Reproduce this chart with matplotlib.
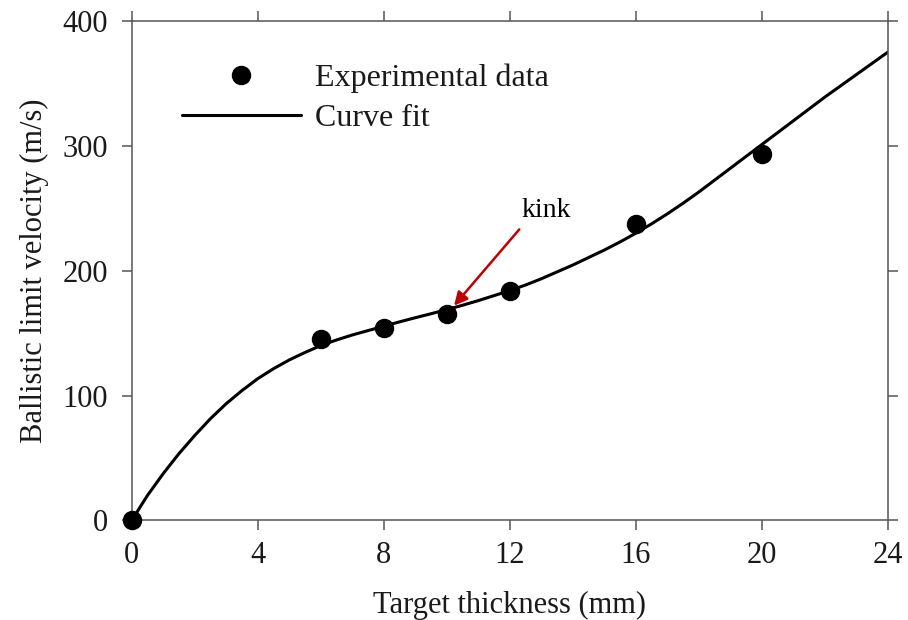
import matplotlib.pyplot as plt

# measured ballistic limit velocities
thickness_mm = [0, 6, 8, 10, 12, 16, 20]
velocity_ms = [0, 145, 154, 165, 184, 237, 293]

# fitted curve, sampled every 0.5 mm
fit_thickness = [0, 0.5, 1, 1.5, 2, 2.5, 3, 3.5, 4, 4.5, 5, 5.5, 6, 6.5, 7,
                 7.5, 8, 8.5, 9, 9.5, 10, 10.5, 11, 11.5, 12, 12.5, 13, 13.5,
                 14, 14.5, 15, 15.5, 16, 16.5, 17, 17.5, 18, 18.5, 19, 19.5,
                 20, 20.5, 21, 21.5, 22, 22.5, 23, 23.5, 24]
fit_velocity = [0, 20, 37.5, 53.5, 68, 81.5, 93.5, 104, 113.5, 121.5, 128.5,
                134.5, 140, 144.5, 148.5, 152, 155.5, 159, 162.3, 165.5,
                168.8, 172.3, 176, 180, 184, 188.5, 193.5, 199, 204.5, 210.5,
                216.5, 223, 230, 237.5, 245.5, 254, 263, 272.5, 282, 291.5,
                301, 310.5, 320, 329.5, 339, 348, 357, 366, 375]

x_ticks = [0, 4, 8, 12, 16, 20, 24]
y_ticks = [0, 100, 200, 300, 400]

# kink callout
kink_point = (10.23, 172)
kink_tail = (12.3, 233)
kink_label = (12.36, 243)

plt.rcParams["font.family"] = ["Liberation Serif", "DejaVu Serif"]
TEXT = "#1a1a1a"
AXIS = "#555555"

fig = plt.figure(figsize=(9.08, 6.2), dpi=100)
ax = fig.add_axes([0.145, 0.1605, 0.833, 0.806])

ax.plot(fit_thickness, fit_velocity, color="black", lw=2.2,
        solid_joinstyle="round", solid_capstyle="round",
        label="Curve fit", zorder=2)
ax.plot(thickness_mm, velocity_ms, "o", color="black", ms=13,
        label="Experimental data", clip_on=False, zorder=3)

ax.set_xlim(0, 24)
ax.set_ylim(0, 400)
ax.set_xticks(x_ticks)
ax.set_yticks(y_ticks)

for side in ["left", "right", "top", "bottom"]:
    ax.spines[side].set_color(AXIS)
    ax.spines[side].set_linewidth(1.1)

ax.tick_params(direction="out", length=7.5, width=1.1, color=AXIS,
               top=True, right=True, labelsize=22, labelcolor=TEXT)
ax.tick_params(axis="y", pad=9.5)
ax.tick_params(axis="x", pad=7)

ax.set_xlabel("Target thickness (mm)", fontsize=22, color=TEXT, labelpad=15)
ax.set_ylabel("Ballistic limit velocity (m/s)", fontsize=22, color=TEXT,
              labelpad=10)

handles, labels = ax.get_legend_handles_labels()
ax.legend(handles[::-1], labels[::-1], loc="upper left",
          bbox_to_anchor=(0.067, 0.914), frameon=False, fontsize=23,
          handlelength=3.7, handletextpad=0.45, labelspacing=0.33,
          borderpad=0, borderaxespad=0, labelcolor=TEXT)

ax.annotate("", xy=kink_point, xytext=kink_tail,
            arrowprops=dict(arrowstyle="-|>", color="#c00000", lw=1.8,
                            mutation_scale=20, shrinkA=0, shrinkB=0))
ax.text(kink_label[0], kink_label[1], "kink", fontsize=20, color="black",
        ha="left", va="baseline")

fig.savefig("out.png", dpi=100)
